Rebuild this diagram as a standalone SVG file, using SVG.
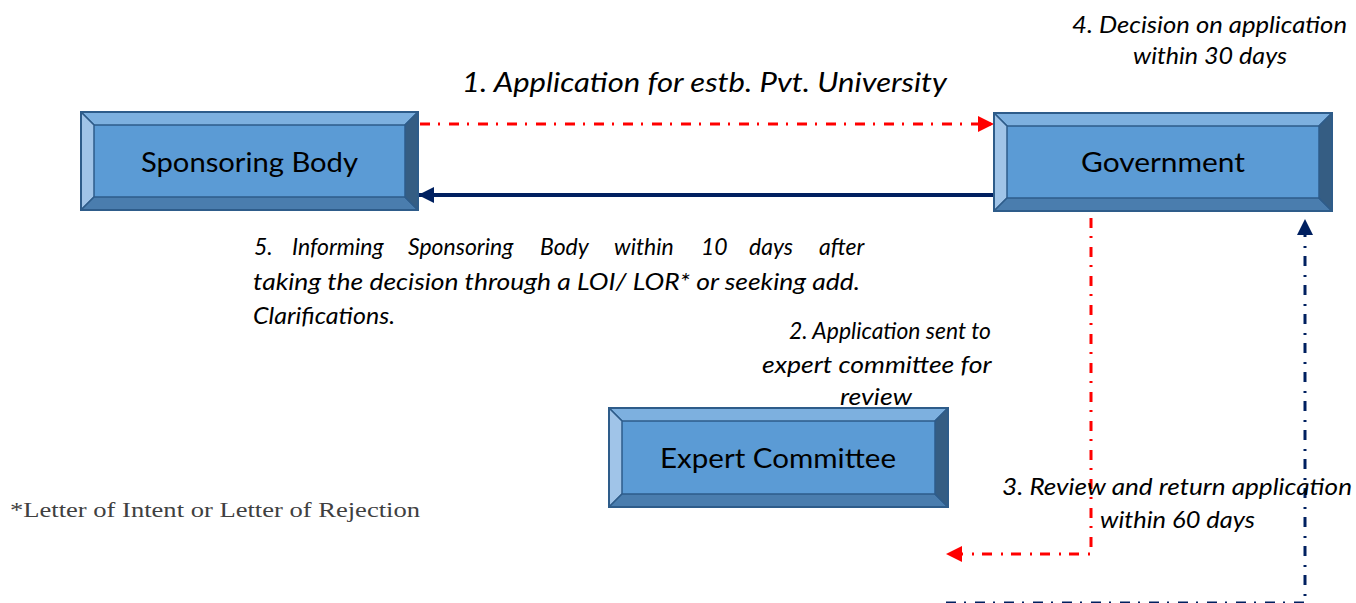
<svg xmlns="http://www.w3.org/2000/svg" width="1356" height="603" viewBox="0 0 1356 603">
  <defs>
    <style>
      .bg { fill: #ffffff; }
      .face { fill: #5B9BD5; stroke: #2E5C8A; stroke-width: 1.5; }
      .top { fill: #7DB0DF; stroke: #2E5C8A; stroke-width: 1.5; stroke-linejoin: round; }
      .left { fill: #A0C4E8; stroke: #2E5C8A; stroke-width: 1.5; stroke-linejoin: round; }
      .bottom { fill: #4A7DAE; stroke: #2E5C8A; stroke-width: 1.5; stroke-linejoin: round; }
      .right { fill: #355D83; stroke: #2E5C8A; stroke-width: 1.5; stroke-linejoin: round; }
      .outline { fill: none; stroke: #2E5C8A; stroke-width: 2; }
      .node-label { font-family: Lato, "Open Sans", "Liberation Sans", sans-serif; font-size: 27px; fill: #000000; text-anchor: middle; }
      .lbl { font-family: Lato, "Open Sans", "Liberation Sans", sans-serif; font-style: italic; fill: #000000; }
      .red-dd { fill: none; stroke: #FF0000; stroke-width: 3; stroke-dasharray: 10 8 2 9; }
      .navy-dd { fill: none; stroke: #002060; stroke-width: 3; stroke-dasharray: 10 8 2 9; }
      .navy-solid { fill: none; stroke: #002060; stroke-width: 4; }
      .foot { font-family: "Liberation Serif", "Times New Roman", serif; font-size: 22px; fill: #404040; }
    </style>
    <marker id="arrRed" viewBox="0 0 16 16" refX="15" refY="8" markerWidth="16" markerHeight="16" markerUnits="userSpaceOnUse" orient="auto">
      <path d="M0,0 L16,8 L0,16 Z" fill="#FF0000"/>
    </marker>
    <marker id="arrNavy" viewBox="0 0 16 16" refX="15" refY="8" markerWidth="16" markerHeight="16" markerUnits="userSpaceOnUse" orient="auto">
      <path d="M0,0 L16,8 L0,16 Z" fill="#002060"/>
    </marker>
  </defs>

  <rect class="bg" x="0" y="0" width="1356" height="603"/>

  <g id="connectors">
    <!-- 1: Sponsoring Body -> Government -->
    <line class="red-dd" x1="420" y1="124" x2="993" y2="124" marker-end="url(#arrRed)"/>
    <!-- 5: Government -> Sponsoring Body -->
    <line class="navy-solid" x1="994" y1="195" x2="419" y2="195" marker-end="url(#arrNavy)"/>
    <!-- 2: Government -> Expert Committee -->
    <polyline class="red-dd" points="1091,218 1091,554 947,554" marker-end="url(#arrRed)"/>
    <!-- 3: Expert Committee -> Government -->
    <polyline class="navy-dd" points="946,603 1305,603 1305,220" marker-end="url(#arrNavy)"/>
  </g>

  <g id="node-sponsoring">
    <rect class="face" x="81" y="112" width="337" height="98"/>
    <polygon class="top" points="81,112 418,112 405,125 94,125"/>
    <polygon class="left" points="81,112 94,125 94,197 81,210"/>
    <polygon class="bottom" points="81,210 94,197 405,197 418,210"/>
    <polygon class="right" points="418,112 418,210 405,197 405,125"/>
    <rect class="outline" x="81" y="112" width="337" height="98"/>
    <text class="node-label" x="249.5" y="172" textLength="217" lengthAdjust="spacingAndGlyphs">Sponsoring Body</text>
  </g>

  <g id="node-government">
    <rect class="face" x="994" y="113" width="338" height="98"/>
    <polygon class="top" points="994,113 1332,113 1319,126 1007,126"/>
    <polygon class="left" points="994,113 1007,126 1007,198 994,211"/>
    <polygon class="bottom" points="994,211 1007,198 1319,198 1332,211"/>
    <polygon class="right" points="1332,113 1332,211 1319,198 1319,126"/>
    <rect class="outline" x="994" y="113" width="338" height="98"/>
    <text class="node-label" x="1163" y="172" textLength="164" lengthAdjust="spacingAndGlyphs">Government</text>
  </g>

  <g id="node-expert">
    <rect class="face" x="609" y="408" width="339" height="99"/>
    <polygon class="top" points="609,408 948,408 935,421 622,421"/>
    <polygon class="left" points="609,408 622,421 622,494 609,507"/>
    <polygon class="bottom" points="609,507 622,494 935,494 948,507"/>
    <polygon class="right" points="948,408 948,507 935,494 935,421"/>
    <rect class="outline" x="609" y="408" width="339" height="99"/>
    <text class="node-label" x="778" y="468" textLength="236" lengthAdjust="spacingAndGlyphs">Expert Committee</text>
  </g>

  <g id="labels">
    <text class="lbl" x="462" y="92" font-size="27" textLength="485" lengthAdjust="spacingAndGlyphs">1. Application for estb. Pvt. University</text>

    <text class="lbl" font-size="23">
      <tspan x="1072" y="33" textLength="275" lengthAdjust="spacingAndGlyphs">4. Decision on application</tspan>
      <tspan x="1133" y="64" textLength="154" lengthAdjust="spacingAndGlyphs">within 30 days</tspan>
    </text>

    <text class="lbl" font-size="23">
      <tspan x="254" y="255">5.</tspan>
      <tspan x="292" y="255">Informing</tspan>
      <tspan x="408" y="255">Sponsoring</tspan>
      <tspan x="540" y="255">Body</tspan>
      <tspan x="614" y="255">within</tspan>
      <tspan x="701" y="255">10</tspan>
      <tspan x="749" y="255">days</tspan>
      <tspan x="819" y="255">after</tspan>
    </text>
    <text class="lbl" font-size="23" x="253" y="290" textLength="607" lengthAdjust="spacingAndGlyphs">taking the decision through a LOI/ LOR* or seeking add.</text>
    <text class="lbl" font-size="23" x="253" y="324" textLength="142" lengthAdjust="spacingAndGlyphs">Clarifications.</text>

    <text class="lbl" font-size="23">
      <tspan x="789" y="339" textLength="202" lengthAdjust="spacingAndGlyphs">2. Application sent to</tspan>
      <tspan x="762" y="373" textLength="229" lengthAdjust="spacingAndGlyphs">expert committee for</tspan>
      <tspan x="840" y="405" textLength="72" lengthAdjust="spacingAndGlyphs">review</tspan>
    </text>

    <text class="lbl" font-size="23">
      <tspan x="1002" y="495" textLength="350" lengthAdjust="spacingAndGlyphs">3. Review and return application</tspan>
      <tspan x="1100" y="528" textLength="155" lengthAdjust="spacingAndGlyphs">within 60 days</tspan>
    </text>

    <text class="foot" x="10" y="517" textLength="410" lengthAdjust="spacingAndGlyphs">*Letter of Intent or Letter of Rejection</text>
  </g>
</svg>
